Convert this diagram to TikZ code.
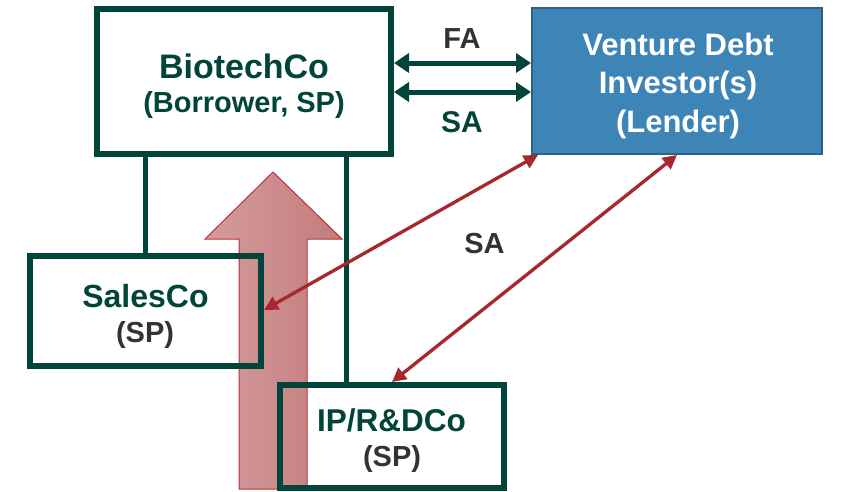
\documentclass[tikz,border=0pt]{standalone}
\usepackage{fontspec}
\setmainfont{Liberation Sans}
\usetikzlibrary{arrows.meta,calc}

\definecolor{dkgreen}{HTML}{00443A}
\definecolor{txtgray}{HTML}{333333}
\definecolor{lendblue}{HTML}{3D85B6}
\definecolor{lendedge}{HTML}{2C6288}
\definecolor{linkred}{HTML}{A8262E}
\definecolor{pinkL}{HTML}{D49C9D}
\definecolor{pinkR}{HTML}{C47B7C}
\definecolor{pinkedge}{HTML}{B0363B}

\tikzset{
  entity/.style={draw=dkgreen, line width=6pt, inner sep=0pt, rectangle},
  lender/.style={fill=lendblue, draw=lendedge, line width=2pt, inner sep=0pt, rectangle},
  tie/.style={draw=dkgreen, line width=5pt},
  agree/.style={draw=dkgreen, line width=5pt, {Triangle[length=15pt,width=19pt]}-{Triangle[length=15pt,width=19pt]}},
  sublink/.style={draw=linkred, line width=3.3pt, {Triangle[length=14pt,width=14pt]}-{Triangle[length=14pt,width=14pt]}},
  lbl/.style={anchor=base, inner sep=0pt, font=\bfseries},
  fs/.style={font=\bfseries\fontsize{#1}{#1}\selectfont}
}

\begin{document}
\begin{tikzpicture}[x=1pt, y=-1pt]
\useasboundingbox (0,0) rectangle (856,491);

% upward flow arrow behind the boxes
\path[left color=pinkL, right color=pinkR, draw=pinkedge, line width=1pt]
  (239,489) -- (239,239) -- (205,239) -- (273,172) -- (342,239)
  -- (307,239) -- (307,489) -- cycle;

% entities
\node[entity, minimum width=294pt, minimum height=145pt] (bio) at (244,81.5) {};
\node[entity, minimum width=231pt, minimum height=110pt] (sales) at (145.5,311) {};
\node[entity, minimum width=224pt, minimum height=103pt] (ip) at (392,436.5) {};
\node[lender, minimum width=290pt, minimum height=146pt] (vd) at (677,81) {};

% ownership ties
\draw[tie] (bio.south -| 145.5,0) -- (sales.north -| 145.5,0);
\draw[tie] (bio.south -| 346,0) -- (ip.north -| 346,0);

% FA / SA agreements with the lender
\draw[agree] (bio.east |- 0,63) -- (vd.west |- 0,63);
\draw[agree] (bio.east |- 0,92) -- (vd.west |- 0,92);

% subsidiary agreements
\draw[sublink] (sales.east |- 0,310) -- ($(vd.south west)+(7,0)$);
\draw[sublink] (ip.north) -- (vd.south);

% texts
\node[lbl, fs=34, text=dkgreen] (t1) at (244,78) {BiotechCo};
\node[lbl, fs=29, text=dkgreen] (t2) at (244,112) {(Borrower, SP)};
\node[lbl, fs=31, text=white] (t3) at (678,55) {Venture Debt};
\node[lbl, fs=31, text=white] (t4) at (678,93) {Investor(s)};
\node[lbl, fs=31, text=white] (t5) at (678,132) {(Lender)};
\node[lbl, fs=29, text=txtgray] (t6) at (462,48) {FA};
\node[lbl, fs=30, text=dkgreen] (t7) at (462,132) {SA};
\node[lbl, fs=29, text=txtgray] (t8) at (484.5,253) {SA};
\node[lbl, fs=32, text=dkgreen] (t9) at (145.5,307) {SalesCo};
\node[lbl, fs=29, text=txtgray] (t10) at (145,342) {(SP)};
\node[lbl, fs=31.5, text=dkgreen] (t11) at (391.5,431) {IP/R\&DCo};
\node[lbl, fs=29, text=txtgray] (t12) at (392,466) {(SP)};
\end{tikzpicture}
\end{document}
